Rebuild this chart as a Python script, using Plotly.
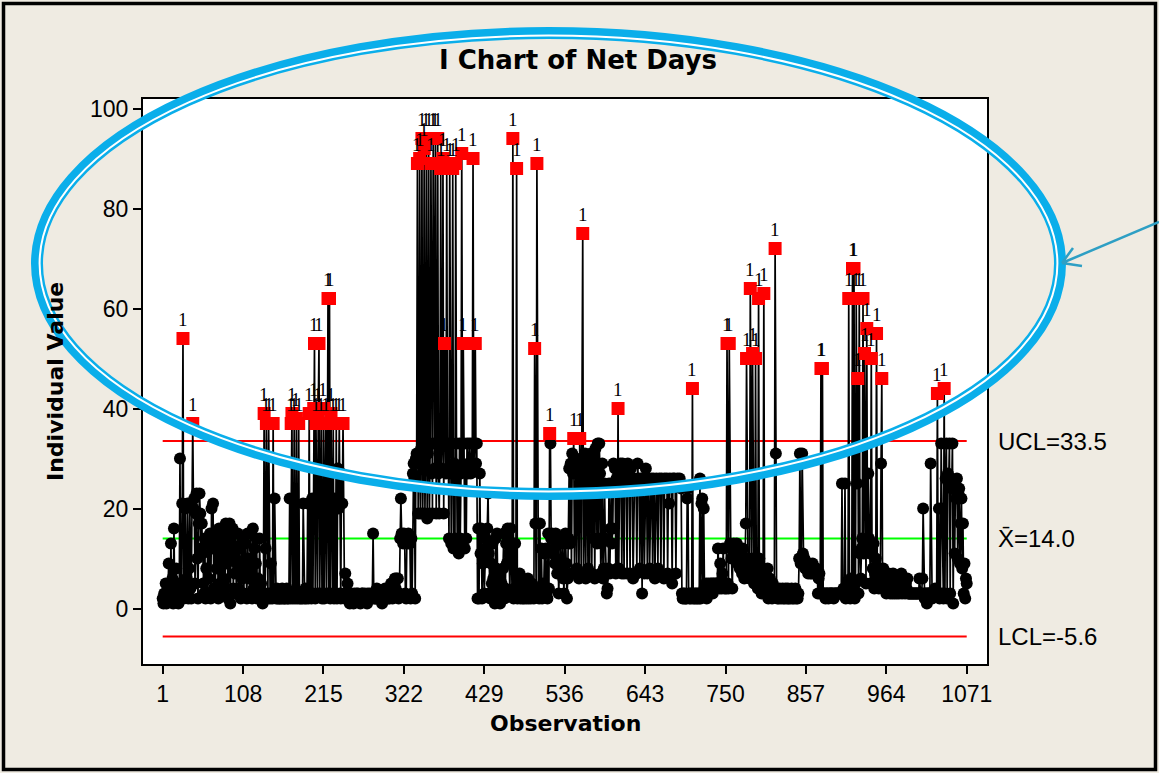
import plotly.graph_objects as go

# ---------------------------------------------------------------------------
# Net days for each observation, in blocks of one hundred observations
# ---------------------------------------------------------------------------
net_days_0001_0100 = [
    2, 1, 3, 2, 5, 1, 2, 4, 9, 2,
    3, 13, 2, 6, 1, 16, 3, 2, 8, 2,
    5, 1, 3, 30, 4, 2, 21, 54, 2, 5,
    20, 3, 6, 21, 2, 8, 21, 4, 2, 20,
    37, 20, 22, 5, 19, 23, 10, 2, 17, 23,
    19, 12, 17, 11, 5, 3, 14, 2, 8, 3,
    14, 6, 13, 15, 2, 20, 12, 21, 4, 14,
    3, 15, 8, 12, 2, 16, 5, 13, 3, 15,
    16, 6, 12, 4, 17, 9, 14, 2, 15, 17,
    1, 13, 10, 16, 4, 12, 7, 15, 3, 9,
]
net_days_0101_0200 = [
    15, 4, 12, 9, 2, 13, 6, 14, 3, 13,
    13, 8, 2, 15, 6, 10, 3, 15, 8, 2,
    16, 4, 12, 3, 9, 14, 2, 6, 3, 14,
    2, 5, 2, 1, 3, 39, 2, 12, 37, 3,
    2, 37, 3, 2, 9, 3, 2, 37, 3, 22,
    3, 2, 4, 2, 3, 2, 2, 3, 2, 4,
    2, 3, 2, 2, 3, 4, 2, 2, 3, 22,
    2, 37, 39, 2, 3, 37, 2, 3, 38, 2,
    3, 37, 2, 3, 2, 3, 2, 21, 3, 2,
    4, 2, 3, 21, 2, 39, 3, 21, 2, 22,
]
net_days_0201_0300 = [
    3, 40, 53, 2, 37, 21, 3, 39, 53, 3,
    21, 37, 2, 3, 40, 2, 21, 37, 3, 22,
    62, 3, 62, 2, 39, 21, 3, 37, 2, 22,
    3, 37, 2, 28, 20, 37, 3, 2, 27, 21,
    37, 3, 2, 7, 3, 2, 5, 2, 3, 1,
    2, 3, 2, 2, 1, 3, 2, 2, 3, 2,
    3, 2, 2, 1, 2, 3, 3, 2, 2, 3,
    2, 2, 1, 3, 2, 2, 3, 2, 2, 3,
    15, 2, 3, 2, 2, 4, 2, 3, 2, 2,
    3, 2, 1, 2, 3, 2, 4, 2, 2, 3,
]
net_days_0301_0400 = [
    2, 3, 2, 4, 5, 3, 2, 3, 5, 6,
    4, 6, 3, 6, 2, 3, 14, 22, 15, 14,
    13, 15, 14, 3, 2, 14, 13, 15, 14, 13,
    2, 14, 3, 27, 29, 26, 2, 30, 31, 89,
    19, 29, 90, 19, 32, 94, 19, 30, 92, 19,
    33, 94, 18, 31, 94, 19, 33, 89, 27, 19,
    94, 33, 28, 94, 19, 33, 94, 27, 19, 33,
    88, 28, 33, 90, 19, 53, 33, 27, 89, 28,
    33, 14, 88, 27, 13, 33, 88, 12, 29, 14,
    89, 33, 13, 28, 11, 33, 14, 27, 91, 28,
]
net_days_0401_0500 = [
    53, 33, 12, 28, 14, 33, 27, 29, 33, 28,
    27, 33, 29, 90, 28, 33, 53, 29, 33, 2,
    16, 2, 27, 11, 16, 2, 9, 15, 3, 12,
    14, 10, 16, 23, 11, 3, 2, 9, 5, 13,
    6, 2, 1, 14, 8, 15, 3, 4, 7, 1,
    2, 5, 3, 8, 15, 2, 4, 13, 9, 16,
    14, 11, 3, 16, 12, 3, 94, 2, 4, 13,
    3, 88, 2, 5, 3, 7, 2, 4, 6, 2,
    3, 2, 5, 4, 2, 3, 6, 2, 4, 3,
    2, 5, 3, 4, 2, 52, 17, 3, 89, 4,
]
net_days_0501_0600 = [
    3, 2, 17, 3, 12, 2, 5, 3, 11, 4,
    12, 3, 2, 15, 4, 35, 33, 14, 15, 11,
    14, 12, 9, 15, 13, 7, 14, 3, 9, 13,
    8, 7, 14, 6, 3, 13, 15, 9, 2, 6,
    14, 28, 13, 29, 7, 31, 27, 34, 7, 29,
    30, 8, 28, 27, 6, 34, 29, 7, 30, 75,
    7, 28, 31, 6, 29, 27, 8, 30, 7, 29,
    31, 7, 28, 14, 30, 6, 32, 29, 13, 33,
    14, 33, 27, 7, 13, 29, 6, 8, 25, 14,
    7, 3, 4, 8, 25, 7, 16, 25, 13, 16,
]
net_days_0601_0700 = [
    29, 25, 28, 7, 26, 8, 40, 8, 26, 29,
    25, 7, 29, 26, 7, 28, 25, 26, 7, 29,
    26, 25, 7, 28, 25, 26, 6, 25, 26, 24,
    25, 7, 29, 26, 25, 8, 26, 25, 3, 26,
    25, 7, 26, 28, 25, 7, 26, 25, 8, 25,
    26, 25, 7, 26, 25, 6, 25, 26, 25, 8,
    25, 26, 25, 7, 26, 25, 25, 6, 26, 25,
    25, 26, 7, 25, 21, 26, 25, 25, 5, 26,
    25, 26, 25, 7, 25, 26, 25, 25, 26, 25,
    24, 3, 2, 3, 2, 3, 2, 2, 22, 24,
]
net_days_0701_0800 = [
    3, 2, 3, 2, 3, 44, 2, 3, 2, 3,
    2, 3, 2, 3, 2, 26, 2, 21, 22, 3,
    20, 4, 3, 5, 2, 4, 5, 3, 4, 5,
    4, 5, 3, 5, 4, 5, 4, 5, 5, 12,
    5, 4, 9, 5, 4, 7, 12, 5, 4, 5,
    4, 53, 5, 4, 53, 13, 12, 10, 4, 12,
    13, 11, 10, 12, 13, 9, 12, 11, 8, 10,
    8, 7, 12, 9, 6, 10, 17, 50, 9, 8,
    10, 6, 64, 9, 7, 51, 10, 5, 8, 50,
    6, 9, 4, 62, 10, 5, 8, 3, 6, 4,
]
net_days_0801_0900 = [
    63, 4, 7, 3, 5, 8, 2, 4, 6, 3,
    4, 2, 5, 3, 4, 72, 31, 4, 2, 3,
    2, 4, 3, 2, 3, 4, 2, 3, 2, 4,
    3, 2, 4, 2, 3, 2, 3, 4, 2, 3,
    2, 3, 4, 2, 3, 2, 3, 10, 31, 9,
    10, 31, 11, 9, 10, 8, 9, 8, 9, 7,
    8, 9, 7, 8, 7, 9, 8, 7, 8, 7,
    8, 7, 3, 6, 7, 3, 48, 3, 48, 3,
    3, 3, 2, 3, 3, 3, 2, 3, 3, 3,
    3, 3, 3, 2, 3, 3, 3, 3, 3, 3,
]
net_days_0901_1000 = [
    3, 3, 3, 3, 25, 3, 4, 3, 25, 2,
    3, 5, 4, 62, 3, 2, 6, 3, 68, 4,
    68, 2, 5, 62, 25, 46, 3, 62, 11, 6,
    12, 14, 62, 11, 51, 13, 5, 56, 12, 27,
    14, 11, 5, 50, 12, 8, 13, 4, 7, 10,
    55, 6, 8, 4, 7, 5, 29, 46, 6, 8,
    4, 7, 5, 3, 6, 4, 7, 5, 3, 6,
    4, 3, 7, 5, 3, 4, 6, 3, 4, 5,
    3, 6, 4, 7, 3, 5, 6, 4, 3, 5,
    4, 6, 3, 3, 3, 3, 3, 3, 3, 3,
]
net_days_1001_1071 = [
    3, 3, 3, 3, 3, 3, 3, 6, 3, 3,
    3, 6, 20, 3, 2, 3, 3, 1, 3, 3,
    3, 3, 29, 3, 2, 3, 3, 3, 4, 3,
    3, 43, 3, 20, 2, 3, 33, 20, 3, 2,
    44, 3, 26, 33, 2, 27, 25, 33, 3, 26,
    24, 33, 1, 25, 11, 24, 22, 26, 10, 23,
    24, 9, 17, 22, 8, 17, 3, 9, 2, 6,
    5,
]

# Control limits
ucl = 33.5
x_bar = 14.0
lcl = -5.6

x_tick_values = [1, 108, 215, 322, 429, 536, 643, 750, 857, 964, 1071]
y_tick_values = [0, 20, 40, 60, 80, 100]

net_days = (net_days_0001_0100 + net_days_0101_0200 + net_days_0201_0300
            + net_days_0301_0400 + net_days_0401_0500 + net_days_0501_0600
            + net_days_0601_0700 + net_days_0701_0800 + net_days_0801_0900
            + net_days_0901_1000 + net_days_1001_1071)
observation = list(range(1, len(net_days) + 1))

# Test 1: points beyond the control limits
in_x = [o for o, v in zip(observation, net_days) if lcl <= v <= ucl]
in_y = [v for v in net_days if lcl <= v <= ucl]
out_x = [o for o, v in zip(observation, net_days) if v > ucl or v < lcl]
out_y = [v for v in net_days if v > ucl or v < lcl]

# ---------------------------------------------------------------------------
# Page geometry (pixels) and helpers for paper coordinates
# ---------------------------------------------------------------------------
W_PAGE, H_PAGE = 1159, 773
L, R, T, B = 143, 987, 99, 664
PW, PH = R - L, B - T


def px(xp):
    return (xp - L) / PW


def py(yp):
    return (B - yp) / PH


BG = "#EFEBE2"
TXT = "Liberation Sans"
BOLD = "DejaVu Sans"

fig = go.Figure()

x_first, x_last = observation[0], observation[-1]
for level, colour in [(ucl, "#FF0000"), (x_bar, "#00FF00"), (lcl, "#FF0000")]:
    fig.add_trace(go.Scatter(
        x=[x_first, x_last], y=[level, level], mode="lines",
        line=dict(color=colour, width=2), hoverinfo="skip", showlegend=False))

fig.add_trace(go.Scatter(
    x=observation, y=net_days, mode="lines",
    line=dict(color="black", width=1.7), showlegend=False))
fig.add_trace(go.Scatter(
    x=in_x, y=in_y, mode="markers",
    marker=dict(symbol="circle", size=12, color="black", line=dict(width=0)),
    showlegend=False))
fig.add_trace(go.Scatter(
    x=out_x, y=out_y, mode="markers",
    marker=dict(symbol="square", size=13, color="#FF0000", line=dict(width=0)),
    showlegend=False))

annotations = []
for o, v in zip(out_x, out_y):
    annotations.append(dict(
        x=o, y=v, xref="x", yref="y", text="1", showarrow=False,
        xanchor="center", yanchor="middle", yshift=19,
        font=dict(family="Liberation Serif", size=19, color="black")))

# Limit labels to the right of the plot
for level, label in [(ucl, "UCL=33.5"), (x_bar, "X\u0304=14.0"), (lcl, "LCL=-5.6")]:
    annotations.append(dict(
        x=px(996), y=level, xref="paper", yref="y", text=label,
        showarrow=False, xanchor="left", yanchor="middle",
        font=dict(family=TXT, size=24, color="black")))

annotations += [
    dict(x=px(578), y=py(60), xref="paper", yref="paper",
         text="<b>I Chart of Net Days</b>", showarrow=False,
         xanchor="center", yanchor="middle",
         font=dict(family=BOLD, size=26, color="black")),
    dict(x=px(565), y=py(723), xref="paper", yref="paper",
         text="<b>Observation</b>", showarrow=False,
         xanchor="center", yanchor="middle",
         font=dict(family=BOLD, size=22, color="black")),
    dict(x=px(55), y=py(382), xref="paper", yref="paper",
         text="<b>Individual Value</b>", showarrow=False, textangle=-90,
         xanchor="center", yanchor="middle",
         font=dict(family=BOLD, size=22, color="black")),
]

# Highlight ellipse (double line) and pointer arrow
cx, cy, rx, ry = 548.5, 263.5, 517.5, 236.5
BLUE = "#0AAEEA"


def ellipse(offset, colour, width):
    return dict(type="circle", xref="paper", yref="paper", layer="above",
                x0=px(cx - rx + offset), x1=px(cx + rx - offset),
                y0=py(cy + ry - offset), y1=py(cy - ry + offset),
                line=dict(color=colour, width=width))


def seg(x0, y0, x1, y1):
    return f"M{px(x0)},{py(y0)} L{px(x1)},{py(y1)}"


shapes = [
    # page border
    dict(type="rect", xref="paper", yref="paper", layer="above",
         x0=px(3.5), x1=px(1155.5), y0=py(769.5), y1=py(3.5),
         line=dict(color="black", width=3.5)),
    ellipse(6.0, BLUE, 12),
    ellipse(8.6, "white", 2),
    dict(type="path", xref="paper", yref="paper", layer="above",
         path=seg(1159, 222, 1062, 263) + " " + seg(1062, 263, 1073, 248)
         + " " + seg(1062, 263, 1082, 266),
         line=dict(color="#2E9FC4", width=2.5)),
]

axis_common = dict(
    showgrid=False, zeroline=False, showline=True, mirror=True,
    linecolor="black", linewidth=2, ticks="outside", ticklen=8,
    tickwidth=1.5, tickcolor="black",
    tickfont=dict(family=TXT, size=23, color="black"),
)

fig.update_layout(
    width=W_PAGE, height=H_PAGE,
    margin=dict(l=L, r=W_PAGE - R, t=T, b=H_PAGE - B, pad=0),
    paper_bgcolor=BG, plot_bgcolor="white",
    showlegend=False, hovermode=False,
    xaxis=dict(range=[-25.2, 1098.0], tickvals=x_tick_values,
               ticktext=[str(v) for v in x_tick_values], **axis_common),
    yaxis=dict(range=[-11.1, 101.9], tickvals=y_tick_values,
               ticktext=[str(v) for v in y_tick_values], **axis_common),
    annotations=annotations,
    shapes=shapes,
)

fig.write_html("out.html")
